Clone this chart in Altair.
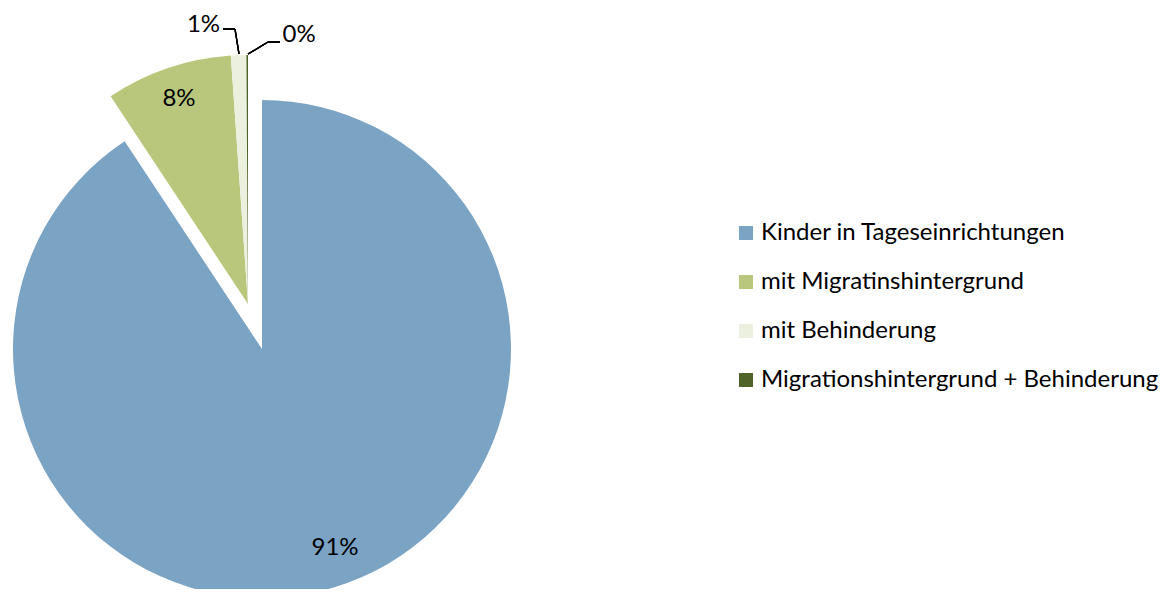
import math
import altair as alt
import pandas as pd

# ---- data ----
categories = [
    "Kinder in Tageseinrichtungen",
    "mit Migratinshintergrund",
    "mit Behinderung",
    "Migrationshintergrund + Behinderung",
]
shares = [90.7, 8.2, 1.0, 0.1]
labels = ["91%", "8%", "1%", "0%"]
exploded = [False, True, True, True]

# ---- style / layout ----
colors = ["#7BA3C4", "#B9C77C", "#EBF1DE", "#4F6228"]
FONT = "Lato"
W, H = 1157, 581
MAIN_C = (254, 341)
EXPL_C = (240, 296)
R = 249

df = pd.DataFrame({
    "cat": categories,
    "share": shares,
    "label": labels,
    "idx": list(range(len(categories))),
    "exploded": exploded,
})

tscale = alt.Scale(domain=[0, 1], range=[0, 2 * math.pi])

base = (
    alt.Chart(df)
    .transform_joinaggregate(total="sum(share)")
    .transform_window(cum="sum(share)", sort=[alt.SortField("idx")], frame=[None, 0])
    .transform_calculate(
        f0="(datum.cum - datum.share) / datum.total",
        f1="datum.cum / datum.total",
        fm="(datum.cum - datum.share / 2) / datum.total",
    )
)

color = alt.Color(
    "cat:N",
    sort=categories,
    scale=alt.Scale(domain=categories, range=colors),
    legend=alt.Legend(
        title=None,
        orient="none",
        legendX=726,
        legendY=213,
        symbolType="square",
        symbolSize=196,
        symbolStrokeWidth=0,
        labelFont=FONT,
        labelFontSize=24,
        labelColor="#000000",
        labelOffset=3,
        rowPadding=25,
        labelLimit=600,
    ),
)


def arcs(filt, center):
    return base.transform_filter(filt).mark_arc(radius=R, stroke=None).encode(
        x=alt.value(center[0]),
        y=alt.value(center[1]),
        theta=alt.Theta("f0:Q", scale=tscale, stack=None),
        theta2="f1:Q",
        color=color,
    )


def label(idx, center, radius, dx=0, dy=0):
    return base.transform_filter(f"datum.idx == {idx}").mark_text(
        radius=radius, dx=dx, dy=dy, font=FONT, fontSize=24, color="#000000",
        align="center", baseline="middle",
    ).encode(
        x=alt.value(center[0]),
        y=alt.value(center[1]),
        theta=alt.Theta("fm:Q", scale=tscale, stack=None),
        text="label:N",
    )


main_arc = arcs("!datum.exploded", MAIN_C)
expl_arc = arcs("datum.exploded", EXPL_C)

lab0 = label(0, MAIN_C, 212, dx=12, dy=-4)
lab1 = label(1, EXPL_C, 215, dy=-1)
lab2 = label(2, EXPL_C, 279, dx=-34)
lab3 = label(3, EXPL_C, 269, dx=52)

# leader lines (layout decoration)
segments = [
    (215, 21, 227, 21),
    (227, 21, 231, 46),
    (240, 46, 260, 34),
    (260, 34, 272, 34),
]
leaders = [
    alt.Chart(df).mark_rule(color="#000000", strokeWidth=1.3).encode(
        x=alt.value(a), y=alt.value(b), x2=alt.value(c), y2=alt.value(d)
    )
    for a, b, c, d in segments
]

chart = alt.layer(main_arc, expl_arc, lab0, lab1, lab2, lab3, *leaders).properties(
    width=W,
    height=H,
    autosize=alt.AutoSizeParams(type="none"),
    padding=0,
).configure_view(stroke=None)

chart.save("out.html", embed_options={"renderer": "svg", "actions": False})
